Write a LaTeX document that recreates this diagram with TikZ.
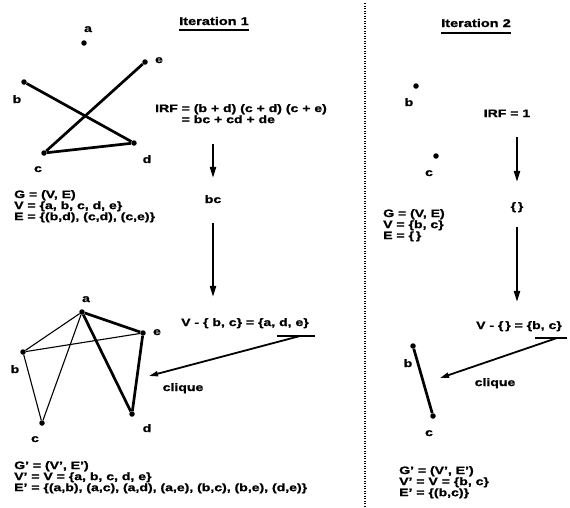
\documentclass[tikz,border=0pt]{standalone}
\usepackage{fontspec}
\setmainfont{Liberation Sans}[FakeStretch=1.3, BoldFeatures={FakeBold=1.2}]
\usetikzlibrary{arrows.meta, positioning}

\begin{document}
\begin{tikzpicture}[x=1pt, y=-1pt,
    font=\bfseries\fontsize{10.8}{8}\selectfont,
    vtx/.style={circle, fill, inner sep=0pt, minimum size=5.5pt},
    lbl/.style={inner sep=0pt, anchor=base},
    eq/.style={inner sep=0pt, align=left, anchor=north west},
    lite/.style={line width=1.1pt},
    heavy/.style={line width=2.7pt},
    down/.style={line width=2pt, -{Triangle[length=11pt, width=6pt]}},
    clq/.style={line width=1.8pt, -{Triangle[length=9pt, width=5pt]}}]
    \useasboundingbox (0,0) rectangle (570,507);

    \node[lbl, font=\bfseries\fontsize{11.2}{11}\selectfont] (it1) at (214,25) {Iteration 1};
    \node[lbl, font=\bfseries\fontsize{11.2}{11}\selectfont] (it2) at (476,27) {Iteration 2};
    \draw[line width=2pt] ([yshift=-5pt]it1.base west) -- ([yshift=-5pt]it1.base east);
    \draw[line width=2pt] ([yshift=-6pt]it2.base west) -- ([yshift=-6pt]it2.base east);
    \draw[line width=1.2pt, dash pattern=on 1.2pt off 1.3pt] (365,3) -- (365,507);

    % iteration 1, input graph
    \node[vtx] (g1a) at (84,43) {};
    \node[vtx] (g1b) at (24,82) {};
    \node[vtx] (g1c) at (44,153) {};
    \node[vtx] (g1d) at (134,143) {};
    \node[vtx] (g1e) at (145,62) {};
    \node[lbl] at (88,32) {a};
    \node[lbl] at (17,103) {b};
    \node[lbl] at (38,172) {c};
    \node[lbl] at (147,163) {d};
    \node[lbl] at (159,63) {e};
    \draw[heavy] (g1b) -- (g1d);
    \draw[heavy] (g1c) -- (g1e);
    \draw[heavy] (g1c) -- (g1d);

    \node[eq] (g1) at (14,190) {G = (V, E)\\V = \{a, b, c, d, e\}\\E = \{(b,d), (c,d), (c,e)\}};

    \node[eq, font=\bfseries\fontsize{10.8}{10}\selectfont] (irf1) at (155,104)
        {IRF = (b + d) (c + d) (c + e)\\\hphantom{IRF}\ = bc + cd + de};
    \node[lbl] (bc) at (213,203) {bc};
    \node[lbl] (vd1) at (245,326) {V - \{ b, c\} = \{a, d, e\}};
    \draw[down, shorten <=21pt, shorten >=17pt] (bc.north |- irf1.south) -- (bc.north);
    \draw[down, shorten <=20pt, shorten >=21pt] (bc.south) -- (bc.south |- vd1.north);

    % iteration 1, clique graph
    \node[vtx] (h1a) at (82,312) {};
    \node[vtx] (h1b) at (23,352) {};
    \node[vtx] (h1c) at (42,423) {};
    \node[vtx] (h1d) at (132,414) {};
    \node[vtx] (h1e) at (143,333) {};
    \node[lbl] at (86,302) {a};
    \node[lbl] at (15,373) {b};
    \node[lbl] at (35,442) {c};
    \node[lbl] at (147,432) {d};
    \node[lbl] at (157,335) {e};
    \draw[lite] (h1a) -- (h1b);
    \draw[lite] (h1a) -- (h1c);
    \draw[lite] (h1b) -- (h1c);
    \draw[lite] (h1b) -- (h1e);
    \draw[heavy] (h1a) -- (h1e);
    \draw[heavy] (h1a) -- (h1d);
    \draw[heavy] (h1e) -- (h1d);

    \coordinate (k1) at (315,336);
    \coordinate (t1) at (149,376);
    \draw[line width=1.8pt] (k1) -- ++(-38,0);
    \draw[clq] ([xshift=-15pt]k1) -- (t1);
    \node[lbl] (cl1) at (183,391) {clique};

    \node[eq] (h1) at (14,461) {G' = (V', E')\\V' = V = \{a, b, c, d, e\}\\E' = \{(a,b), (a,c), (a,d), (a,e), (b,c), (b,e), (d,e)\}};

    % iteration 2
    \node[vtx] (g2b) at (416,86) {};
    \node[vtx] (g2c) at (436,156) {};
    \node[lbl] at (409,106) {b};
    \node[lbl] at (429,176) {c};

    \node[eq] (g2) at (383,209) {G = (V, E)\\V = \{b, c\}\\E = \{\,\}};

    \node[lbl] (irf2) at (507,117) {IRF = 1};
    \node[lbl] (em) at (517,210) {\{\,\}};
    \node[lbl] (vd2) at (519,329) {V - \{\,\} = \{b, c\}};
    \draw[down, shorten <=20pt, shorten >=20pt] (em.north |- irf2.south) -- (em.north);
    \draw[down, shorten <=15pt, shorten >=19pt] (em.south) -- (em.south |- vd2.north);

    \node[vtx] (h2b) at (413,346) {};
    \node[vtx] (h2c) at (433,416) {};
    \node[lbl] at (408,367) {b};
    \node[lbl] at (429,436) {c};
    \draw[heavy] (h2b) -- (h2c);

    \coordinate (k2) at (567,338);
    \coordinate (t2) at (440,378);
    \draw[line width=1.8pt] (k2) -- ++(-32,0);
    \draw[clq] ([xshift=-10pt]k2) -- (t2);
    \node[lbl] (cl2) at (495,386) {clique};

    \node[eq] (h2) at (399,466) {G' = (V', E')\\V' = V = \{b, c\}\\E' = \{(b,c)\}};
\end{tikzpicture}
\end{document}
